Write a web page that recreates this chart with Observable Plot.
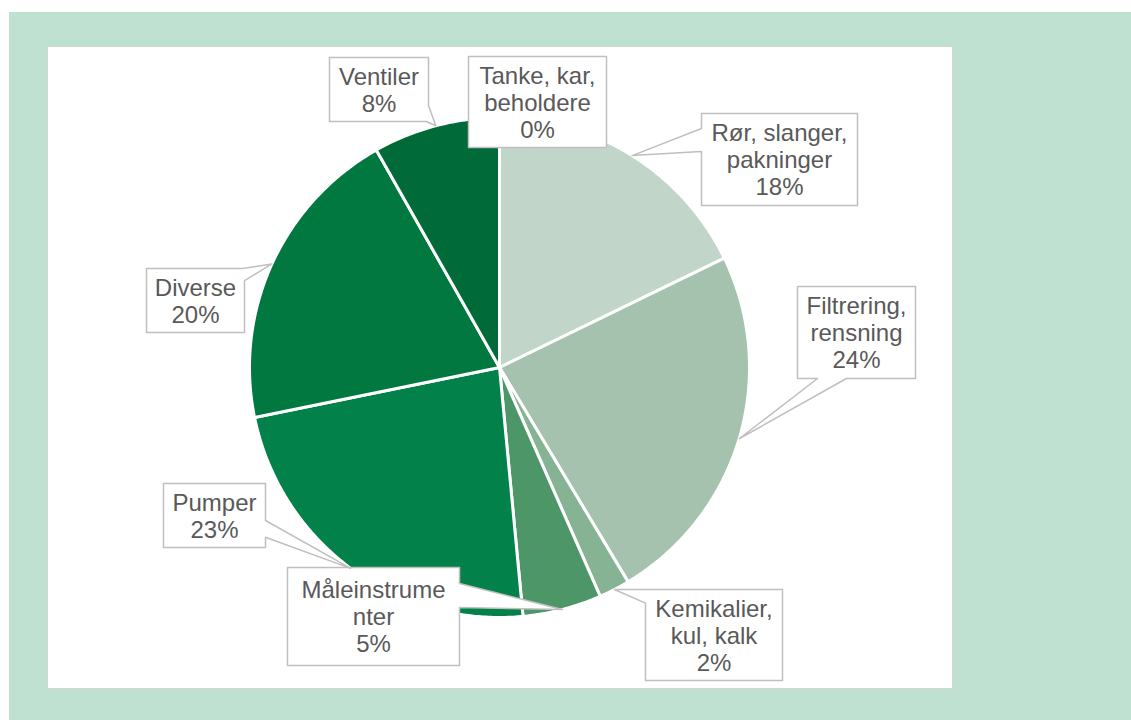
<!DOCTYPE html>
<html>
<head>
<meta charset="utf-8">
<script src="https://cdn.jsdelivr.net/npm/d3@7"></script>
<script src="https://cdn.jsdelivr.net/npm/@observablehq/plot@0.6"></script>
<style>
  html, body { margin: 0; padding: 0; background: #ffffff; }
  #bg { position: absolute; left: 9px; top: 12px; width: 1122px; height: 708px; background: #bfe1d1; }
  #panel { position: absolute; left: 47px; top: 46px; width: 904px; height: 641px; border: 1px solid #d4d4d4; background: #ffffff; }
  #panel svg { display: block; }
</style>
</head>
<body>
<div id="bg"></div>
<div id="panel"></div>
<script>
// ---- data (clockwise from 12 o'clock) ----
const categories = ["Tanke, kar, beholdere", "Rør, slanger, pakninger", "Filtrering, rensning", "Kemikalier, kul, kalk", "Måleinstrumenter", "Pumper", "Diverse", "Ventiler"];
const values = [0, 17.8, 23.6, 2.0, 5.1, 23.3, 20.0, 8.2];
const labelLines = [["Tanke, kar,", "beholdere"], ["Rør, slanger,", "pakninger"], ["Filtrering,", "rensning"], ["Kemikalier,", "kul, kalk"], ["Måleinstrume", "nter"], ["Pumper"], ["Diverse"], ["Ventiler"]];
const colors = ["#b9d3c2", "#c1d6c9", "#a5c2ae", "#86b394", "#4c9667", "#03814a", "#007840", "#006a38"];

// ---- layout of the callout labels (px relative to pie centre, y down) ----
// w/h: box size; s0/s1: pointer base along box perimeter (0 top, 1 right, 2 bottom, 3 left)
const labelLayout = [
  {dx: 38,     dy: -265.5, w: 138, h: 91, s0: null, s1: null},
  {dx: 280,    dy: -208,   w: 156, h: 92, s0: 3.587, s1: 3.837},
  {dx: 357,    dy: -35,    w: 118, h: 92, s0: 2.585, s1: 2.83},
  {dx: 214.5,  dy: 267.5,  w: 137, h: 91, s0: 3.85, s1: 4.03},
  {dx: -126,   dy: 249,    w: 172, h: 98, s0: 1.163, s1: 1.408},
  {dx: -285,   dy: 148,    w: 102, h: 64, s0: 1.578, s1: 1.84},
  {dx: -304,   dy: -67,    w: 98,  h: 64, s0: 0.98, s1: 1.19},
  {dx: -120.5, dy: -278,   w: 99,  h: 64, s0: 1.75, s1: 2.02}
];

const R = 250;            // pie radius in px
const CX = 451, CY = 320; // pie centre inside the panel

const table = categories.map((name, i) => ({name, value: values[i], color: colors[i], i}));
const arcs = d3.pie().sort(null).value(d => d.value)(table);

// slice outlines
const slicePts = [];
for (const a of arcs) {
  if (a.endAngle - a.startAngle <= 0) continue;
  const n = Math.max(2, Math.ceil((a.endAngle - a.startAngle) / 0.01));
  slicePts.push({name: a.data.name, color: a.data.color, x: 0, y: 0});
  for (let k = 0; k <= n; k++) {
    const t = a.startAngle + (a.endAngle - a.startAngle) * k / n;
    slicePts.push({name: a.data.name, color: a.data.color, x: Math.sin(t), y: Math.cos(t)});
  }
}

// callout outlines
function perim(L, s) {
  const x0 = L.dx - L.w / 2, x1 = L.dx + L.w / 2, y0 = L.dy - L.h / 2, y1 = L.dy + L.h / 2;
  s = ((s % 4) + 4) % 4;
  const e = Math.floor(s), f = s - e;
  if (e === 0) return [x0 + (x1 - x0) * f, y0];
  if (e === 1) return [x1, y0 + (y1 - y0) * f];
  if (e === 2) return [x1 - (x1 - x0) * f, y1];
  return [x0, y1 - (y1 - y0) * f];
}
const calloutPts = [];
const labelPts = [];
arcs.forEach((a, i) => {
  const L = labelLayout[i];
  const name = a.data.name;
  const push = ([px, py]) => calloutPts.push({name, x: px / R, y: -py / R});
  if (L.s0 == null) {
    for (let k = 0; k < 4; k++) push(perim(L, k));
  } else {
    const mid = (a.startAngle + a.endAngle) / 2;
    const end = L.s0 + 4;
    push(perim(L, L.s1));
    for (let k = Math.floor(L.s1) + 1; k <= Math.ceil(end) - 1; k++) push(perim(L, k));
    push(perim(L, end));
    calloutPts.push({name, x: Math.sin(mid), y: Math.cos(mid)});
  }
  labelPts.push({
    name,
    x: L.dx / R,
    y: -L.dy / R,
    text: [...labelLines[i], Math.round(a.data.value) + "%"].join("\n")
  });
});

const chart = Plot.plot({
  width: 904,
  height: 641,
  margin: 0,
  x: {domain: [-1, 1], range: [CX - R, CX + R], axis: null},
  y: {domain: [-1, 1], range: [CY + R, CY - R], axis: null},
  color: {type: "identity"},
  style: {background: "white", fontFamily: "'Liberation Sans', Arial, sans-serif", overflow: "visible"},
  marks: [
    Plot.line(slicePts, {x: "x", y: "y", z: "name", fill: "color", stroke: "white", strokeWidth: 3, strokeLinejoin: "round", curve: "linear-closed"}),
    Plot.line(calloutPts, {x: "x", y: "y", z: "name", fill: "white", stroke: "#bfbfbf", strokeWidth: 1.5, curve: "linear-closed"}),
    Plot.text(labelPts, {x: "x", y: "y", text: "text", fontSize: 24, lineHeight: 1.125, lineAnchor: "middle", fill: "#595959"})
  ]
});
document.getElementById("panel").appendChild(chart);
</script>
</body>
</html>
